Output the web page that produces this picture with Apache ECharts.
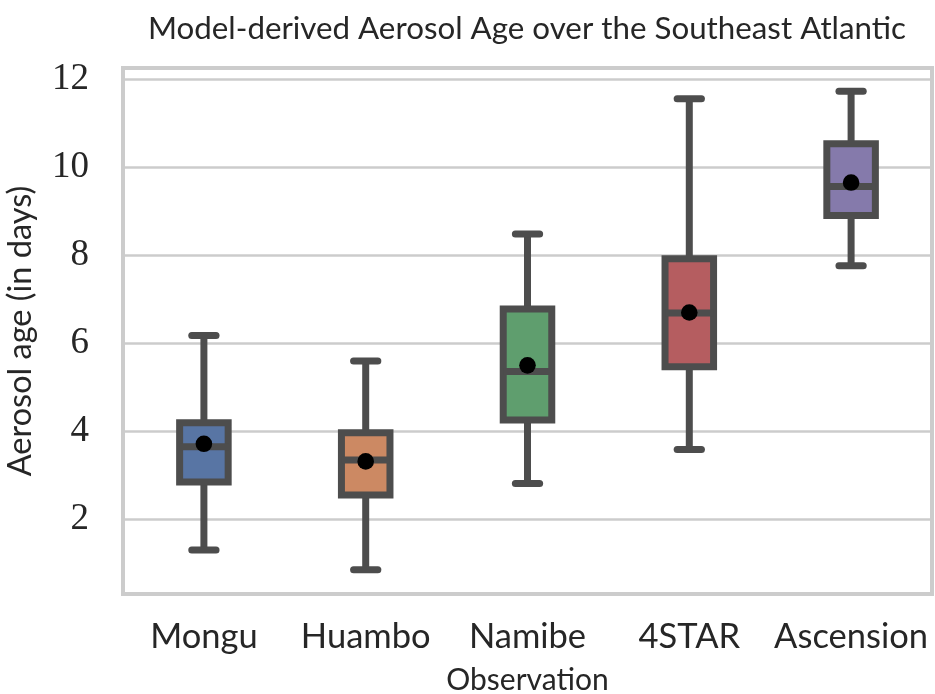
<!DOCTYPE html>
<html>
<head>
<meta charset="utf-8">
<script src="https://cdn.jsdelivr.net/npm/echarts@6/dist/echarts.min.js"></script>
<style>html,body{margin:0;padding:0;background:#fff;}#chart{width:935px;height:694px;}</style>
</head>
<body>
<div id="chart"></div>
<script>
var categories = ['Mongu', 'Huambo', 'Namibe', '4STAR', 'Ascension'];
var whiskerLow = [1.31, 0.86, 2.82, 3.59, 7.76];
var q1 = [2.85, 2.56, 4.26, 5.47, 8.90];
var median = [3.65, 3.35, 5.36, 6.69, 9.56];
var q3 = [4.20, 3.97, 6.78, 7.92, 10.53];
var whiskerHigh = [6.18, 5.60, 8.48, 11.55, 11.72];
var means = [3.72, 3.32, 5.50, 6.70, 9.65];
var boxColors = ['#5875a4', '#cc8963', '#5f9e6e', '#b55d60', '#857aab'];
var titleText = 'Model-derived Aerosol Age over the Southeast Atlantic';
var yName = 'Aerosol age (in days)';
var xName = 'Observation';

var SANS = 'Lato, "Liberation Sans", sans-serif';
var SERIF = '"Liberation Serif", "DejaVu Serif", serif';
var LINE = '#4d4d4d';

var data = categories.map(function (c, i) {
  return [i, whiskerLow[i], q1[i], median[i], q3[i], whiskerHigh[i], means[i]];
});

var chart = echarts.init(document.getElementById('chart'), null, {renderer: 'canvas'});
chart.setOption({
  animation: false,
  backgroundColor: '#ffffff',
  title: {
    text: titleText,
    left: 527,
    top: 13,
    padding: 0,
    textAlign: 'center',
    textStyle: {fontFamily: SANS, fontSize: 31.3, fontWeight: 'normal', color: '#262626'}
  },
  grid: {
    left: 123, right: 3, top: 68, bottom: 100,
    containLabel: false,
    outerBoundsMode: 'none',
    show: true, borderColor: '#cccccc', borderWidth: 4, backgroundColor: 'transparent'
  },
  xAxis: {
    type: 'category',
    data: categories,
    boundaryGap: true,
    axisLine: {show: false},
    axisTick: {show: false},
    splitLine: {show: false},
    axisLabel: {fontFamily: SANS, fontSize: 34.5, color: '#262626', margin: 25, interval: 0},
    name: xName,
    nameLocation: 'middle',
    nameGap: 71,
    nameTextStyle: {fontFamily: SANS, fontSize: 30, color: '#262626'}
  },
  yAxis: {
    type: 'value',
    min: 0.31,
    max: 12.25,
    axisLine: {show: false},
    axisTick: {show: false},
    splitLine: {show: true, lineStyle: {color: '#cccccc', width: 2.5}},
    axisLabel: {fontFamily: SERIF, fontSize: 37, color: '#262626', margin: 34,
                showMinLabel: false, showMaxLabel: false},
    name: yName,
    nameLocation: 'middle',
    nameRotate: 90,
    nameGap: 86,
    nameTextStyle: {fontFamily: SANS, fontSize: 32.5, color: '#262626'}
  },
  series: [{
    type: 'custom',
    data: data,
    encode: {x: 0, y: [1, 2, 3, 4, 5, 6]},
    renderItem: function (params, api) {
      var i = api.value(0);
      var lo = api.coord([i, api.value(1)]);
      var b1 = api.coord([i, api.value(2)]);
      var md = api.coord([i, api.value(3)]);
      var b3 = api.coord([i, api.value(4)]);
      var hi = api.coord([i, api.value(5)]);
      var mn = api.coord([i, api.value(6)]);
      var bw = api.size([1, 0])[0] * 0.3;
      var cx = lo[0];
      var lw = 7;
      return {
        type: 'group',
        children: [
          {type: 'line', shape: {x1: cx, y1: b1[1], x2: cx, y2: lo[1]}, style: {stroke: LINE, lineWidth: lw}},
          {type: 'line', shape: {x1: cx, y1: b3[1], x2: cx, y2: hi[1]}, style: {stroke: LINE, lineWidth: lw}},
          {type: 'line', shape: {x1: cx - bw / 4, y1: lo[1], x2: cx + bw / 4, y2: lo[1]}, style: {stroke: LINE, lineWidth: lw, lineCap: 'round'}},
          {type: 'line', shape: {x1: cx - bw / 4, y1: hi[1], x2: cx + bw / 4, y2: hi[1]}, style: {stroke: LINE, lineWidth: lw, lineCap: 'round'}},
          {type: 'rect', shape: {x: cx - bw / 2, y: b3[1], width: bw, height: b1[1] - b3[1]},
           style: {fill: boxColors[params.dataIndex], stroke: LINE, lineWidth: lw}},
          {type: 'line', shape: {x1: cx - bw / 2, y1: md[1], x2: cx + bw / 2, y2: md[1]}, style: {stroke: LINE, lineWidth: lw}},
          {type: 'circle', shape: {cx: mn[0], cy: mn[1], r: 8.3}, style: {fill: '#000000'}}
        ]
      };
    }
  }]
});
</script>
</body>
</html>
